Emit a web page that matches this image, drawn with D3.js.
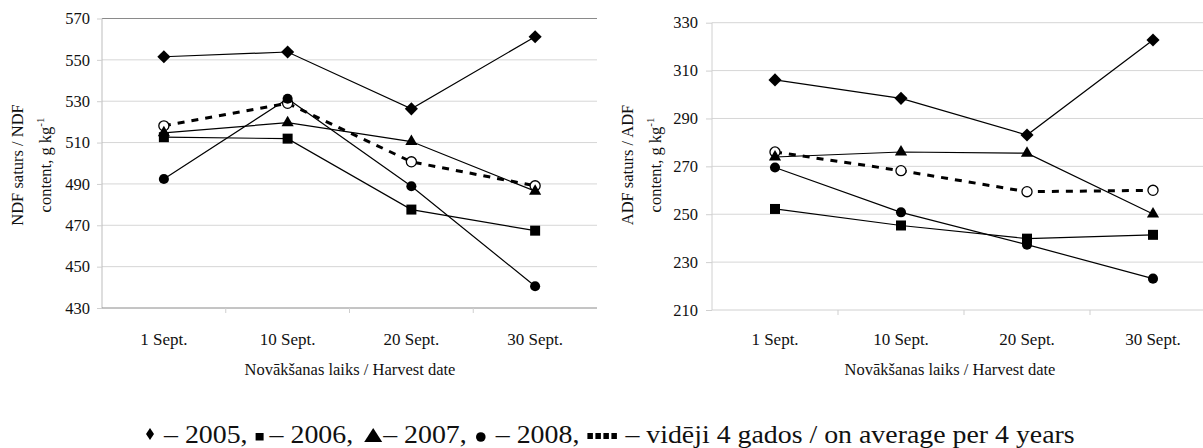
<!DOCTYPE html>
<html>
<head>
<meta charset="utf-8">
<script src="https://cdn.jsdelivr.net/npm/d3@7"></script>
<style>
  body { margin: 0; background: #fff; }
  svg { display: block; }
  text { font-family: "Liberation Serif", "Times New Roman", serif; }
</style>
</head>
<body>
<svg width="1203" height="448"></svg>
<script>
// harvest dates (x categories)
const dates = ['1 Sept.', '10 Sept.', '20 Sept.', '30 Sept.'];

// NDF content, g kg-1
const ndf2005 = [551.5, 553.8, 526.3, 561.2];
const ndf2006 = [512.6, 511.9, 477.6, 467.4];
const ndf2007 = [514.7, 519.6, 510.5, 486.5];
const ndf2008 = [492.4, 531.2, 488.9, 440.5];
const ndfAvg = [518.1, 529.0, 500.7, 489.1];
const ndfTicks = [430, 450, 470, 490, 510, 530, 550, 570];

// ADF content, g kg-1
const adf2005 = [306.1, 298.4, 283.1, 322.8];
const adf2006 = [252.2, 245.3, 239.8, 241.4];
const adf2007 = [273.9, 276.0, 275.5, 250.1];
const adf2008 = [269.5, 250.8, 237.3, 223.1];
const adfAvg = [276.0, 268.2, 259.4, 260.0];
const adfTicks = [210, 230, 250, 270, 290, 310, 330];

const svg = d3.select('svg');
const ink = '#111';

function marker(type) {
  if (type === 'diamond') return d3.symbol().type(d3.symbolSquare).size(86)();
  if (type === 'square') return d3.symbol().type(d3.symbolSquare).size(100)();
  if (type === 'triangle') return d3.symbol().type(d3.symbolTriangle).size(64)();
  return d3.symbol().type(d3.symbolCircle).size(80)();
}

function drawPanel(opt) {
  const x = d3.scaleBand().domain(dates).range(opt.xRange).padding(0);
  const y = d3.scaleLinear().domain(d3.extent(opt.ticks)).range(opt.yRange);
  const g = svg.append('g');
  const top = d3.max(opt.ticks);
  const bottom = d3.min(opt.ticks);

  // gridlines
  g.selectAll('.grid')
    .data(opt.ticks.filter(t => t !== bottom))
    .enter().append('line')
    .attr('x1', opt.xRange[0]).attr('x2', opt.xRange[1])
    .attr('y1', d => y(d)).attr('y2', d => y(d))
    .attr('stroke', d => (d === top && opt.darkTop) ? '#8a8a8a' : '#d6d6d6')
    .attr('stroke-width', 1);

  // y axis
  const ya = g.append('g')
    .attr('transform', 'translate(' + opt.xRange[0] + ',0)')
    .call(d3.axisLeft(y).tickValues(opt.ticks).tickSize(opt.tickSize).tickPadding(opt.tickPad).tickFormat(d3.format('d')));
  ya.select('.domain').attr('stroke', opt.axisColor).attr('d', 'M0,' + opt.yRange[1] + 'V' + opt.yRange[0]);
  ya.selectAll('.tick line').attr('stroke', '#cfcfcf');
  ya.selectAll('.tick text')
    .attr('font-size', 16.5).attr('fill', ink);

  // x axis
  g.append('line')
    .attr('x1', opt.xRange[0]).attr('x2', opt.xRange[1])
    .attr('y1', y(bottom)).attr('y2', y(bottom))
    .attr('stroke', opt.baseColor);
  g.selectAll('.xtick')
    .data(dates.slice(1))
    .enter().append('line')
    .attr('x1', d => x(d)).attr('x2', d => x(d))
    .attr('y1', y(bottom)).attr('y2', y(bottom) + 5)
    .attr('stroke', '#cfcfcf');
  g.selectAll('.xlab')
    .data(dates)
    .enter().append('text')
    .attr('x', d => x(d) + x.bandwidth() / 2)
    .attr('y', 345)
    .attr('text-anchor', 'middle')
    .attr('font-size', 17).attr('fill', ink)
    .text(d => d);

  g.append('text')
    .attr('x', opt.titleX).attr('y', 375)
    .attr('text-anchor', 'middle')
    .attr('font-size', 16.5).attr('fill', ink)
    .text('Novākšanas laiks / Harvest date');

  // y title, two lines
  g.append('text')
    .attr('transform', 'translate(' + opt.yTitleX[0] + ',165) rotate(-90)')
    .attr('text-anchor', 'middle')
    .attr('font-size', 16.5).attr('fill', ink)
    .text(opt.yTitle);
  const t2 = g.append('text')
    .attr('transform', 'translate(' + opt.yTitleX[1] + ',165) rotate(-90)')
    .attr('text-anchor', 'middle')
    .attr('font-size', 16.5).attr('fill', ink);
  t2.append('tspan').text('content, g kg');
  t2.append('tspan').attr('font-size', 11).attr('dy', -7).text('-1');

  const line = d3.line()
    .x((d, i) => x(dates[i]) + x.bandwidth() / 2)
    .y(d => y(d));

  opt.series.forEach(s => {
    g.append('path')
      .attr('d', line(s.values))
      .attr('fill', 'none')
      .attr('stroke', '#000')
      .attr('stroke-width', s.dashed ? 3 : 1.2)
      .attr('stroke-dasharray', s.dashed ? '7,7' : null);
    g.selectAll(null)
      .data(s.values)
      .enter().append('path')
      .attr('d', marker(s.marker))
      .attr('transform', (d, i) => 'translate(' + (x(dates[i]) + x.bandwidth() / 2) + ',' + y(d) + ')' + (s.marker === 'diamond' ? ' rotate(45)' : ''))
      .attr('fill', s.open ? '#fff' : '#000')
      .attr('stroke', s.open ? '#000' : 'none')
      .attr('stroke-width', 1.3);
  });
}

drawPanel({
  xRange: [102, 597], yRange: [308, 18.5], ticks: ndfTicks,
  tickSize: 5, tickPad: 7, darkTop: true, axisColor: '#bdbdbd', baseColor: '#8a8a8a',
  titleX: 350, yTitleX: [23, 51], yTitle: 'NDF saturs / NDF',
  series: [
    {values: ndfAvg, marker: 'circle', open: true, dashed: true},
    {values: ndf2008, marker: 'circle'},
    {values: ndf2007, marker: 'triangle'},
    {values: ndf2005, marker: 'diamond'},
    {values: ndf2006, marker: 'square'}
  ]
});

drawPanel({
  xRange: [712, 1216], yRange: [310, 22.7], ticks: adfTicks,
  tickSize: 6, tickPad: 8, darkTop: false, axisColor: '#d0d0d0', baseColor: '#d0d0d0',
  titleX: 950, yTitleX: [633, 661], yTitle: 'ADF saturs / ADF',
  series: [
    {values: adfAvg, marker: 'circle', open: true, dashed: true},
    {values: adf2008, marker: 'circle'},
    {values: adf2007, marker: 'triangle'},
    {values: adf2005, marker: 'diamond'},
    {values: adf2006, marker: 'square'}
  ]
});

// legend: symbols and text laid out in a row, stretched to the reference width
const legendItems = [
  {sym: 'diamond', w: 8, gap: 10, text: '– 2005,', after: 8},
  {sym: 'square', w: 8, gap: 6, text: '– 2006,', after: 11},
  {sym: 'triangle', w: 18, gap: 1, text: '– 2007,', after: 9},
  {sym: 'circle', w: 10, gap: 10, text: '– 2008,', after: 8},
  {sym: 'dots', w: 30, gap: 8, text: '– vidēji 4 gados / on average per 4 years', after: 0}
];
const lg = svg.append('g');
const baseY = 443, legendLeft = 146, legendRight = 1075, legendFont = 24.5;
const texts = legendItems.map(it => lg.append('text')
  .attr('font-size', legendFont).attr('fill', ink).text(it.text));
const widths = texts.map(t => t.node().getComputedTextLength());
const fixed = d3.sum(legendItems, it => it.w + it.gap + it.after);
const sx = (legendRight - legendLeft - fixed) / d3.sum(widths);

let cx = legendLeft;
legendItems.forEach((it, i) => {
  const mid = cx + it.w / 2;
  if (it.sym === 'diamond') {
    lg.append('path').attr('d', 'M0,-6L4,0L0,6L-4,0Z')
      .attr('transform', 'translate(' + mid + ',' + (baseY - 9) + ')');
  } else if (it.sym === 'square') {
    lg.append('rect').attr('x', cx).attr('y', baseY - 10).attr('width', 8).attr('height', 7.5);
  } else if (it.sym === 'triangle') {
    lg.append('path').attr('d', 'M0,-14L9,0L-9,0Z')
      .attr('transform', 'translate(' + mid + ',' + (baseY - 1) + ')');
  } else if (it.sym === 'circle') {
    lg.append('circle').attr('cx', mid).attr('cy', baseY - 6).attr('r', 4.8);
  } else {
    lg.selectAll(null).data(d3.range(4)).enter().append('rect')
      .attr('x', d => cx + d * 8).attr('y', baseY - 10)
      .attr('width', 5.5).attr('height', 6);
  }
  cx += it.w + it.gap;
  texts[i].attr('transform', 'translate(' + cx + ',' + baseY + ') scale(' + sx + ',1)');
  cx += widths[i] * sx + it.after;
});
lg.selectAll('path, rect, circle').attr('fill', '#000');
</script>
</body>
</html>
